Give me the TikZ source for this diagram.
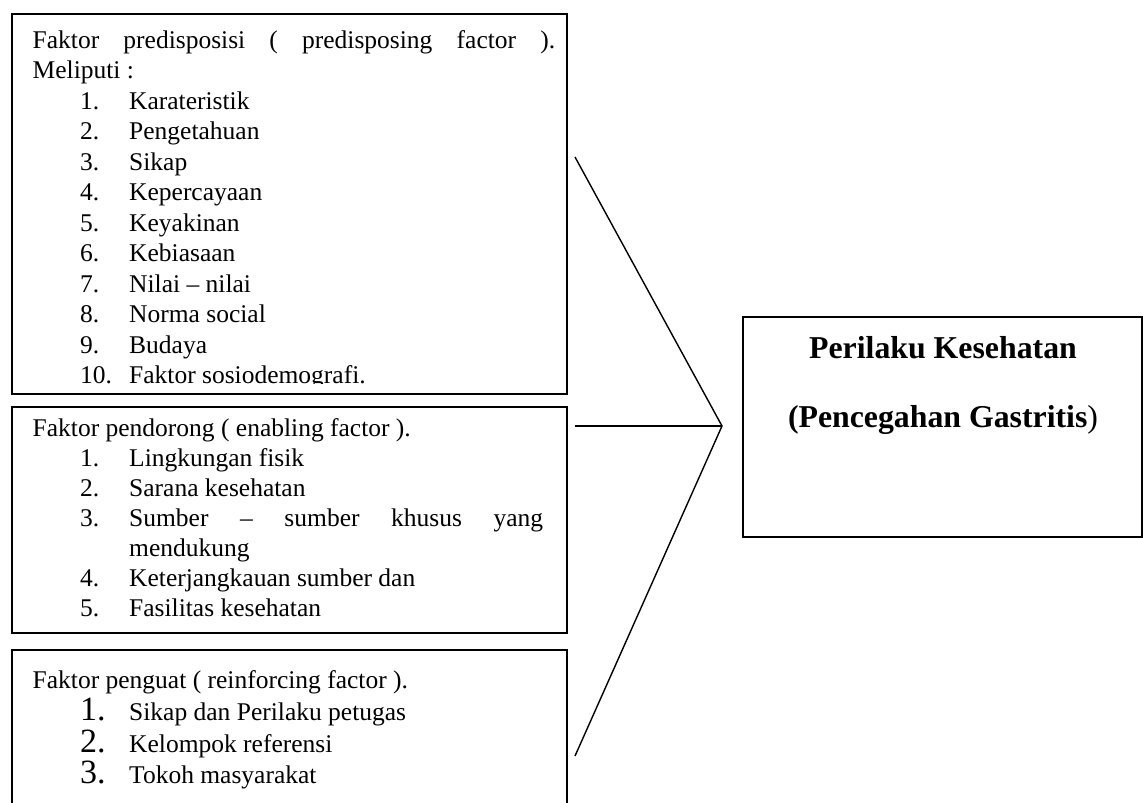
\documentclass[tikz,border=0pt]{standalone}
\usepackage{fontspec}
\setmainfont{Liberation Serif}
\usepackage{tikz}

\begin{document}
\begin{tikzpicture}[x=1pt, y=-1pt,
    kotak/.style={draw, line width=1.6pt, anchor=north west, inner sep=0pt},
    teks/.style={anchor=base west, inner sep=0pt, font=\fontsize{25.5}{30.5}\selectfont},
    nomor/.style={teks, font=\fontsize{34}{40}\selectfont},
    judul/.style={anchor=base, inner sep=0pt, font=\fontsize{31.8}{38}\selectfont\bfseries},
    garis/.style={line width=1.4pt}]
    % Batas gambar
    \clip (0,0) rectangle (1143,803);

    % Faktor predisposisi
    \node[kotak, minimum width=555pt, minimum height=380pt] (predis) at (11,13) {};
    \node[teks] (predisJudul) at (32.5,48) {\makebox[522.5pt][s]{Faktor predisposisi ( predisposing factor ).}};
    \node[teks] (predisMeliputi) at (32.5,78) {Meliputi :};
    \begin{scope}
        \clip (13,15) rectangle (564,383);
        \foreach \n/\isi in {1/Karateristik, 2/Pengetahuan, 3/Sikap, 4/Kepercayaan,
                5/Keyakinan, 6/Kebiasaan, 7/Nilai -- nilai, 8/Norma social,
                9/Budaya, 10/Faktor sosiodemografi.} {
            \node[teks] (predisNo\n) at (80,{109+30.5*(\n-1)}) {\n.};
            \node[teks] (predis\n) at (129,{109+30.5*(\n-1)}) {\isi};
        }
    \end{scope}

    % Faktor pendorong
    \node[kotak, minimum width=555pt, minimum height=226pt] (dorong) at (11,406) {};
    \node[teks] (dorongJudul) at (32.5,436) {Faktor pendorong ( enabling factor ).};
    \foreach \n/\y in {1/466, 2/496, 3/526, 4/586, 5/616} {
        \node[teks] (dorongNo\n) at (80,\y) {\n.};
    }
    \node[teks] (dorong1) at (129,466) {Lingkungan fisik};
    \node[teks] (dorong2) at (129,496) {Sarana kesehatan};
    \node[teks] (dorong3) at (129,526) {\makebox[414pt][s]{Sumber -- sumber khusus yang}};
    \node[teks] (dorong3b) at (129,556) {mendukung};
    \node[teks] (dorong4) at (129,586) {Keterjangkauan sumber dan};
    \node[teks] (dorong5) at (129,616) {Fasilitas kesehatan};

    % Faktor penguat
    \node[kotak, minimum width=555pt, minimum height=200pt] (kuat) at (11,649) {};
    \node[teks] (kuatJudul) at (32.5,688) {Faktor penguat ( reinforcing factor ).};
    \foreach \n/\isi/\y in {1/Sikap dan Perilaku petugas/720, 2/Kelompok referensi/752,
            3/Tokoh masyarakat/783} {
        \node[nomor] (kuatNo\n) at (80,\y) {\n.};
        \node[teks] (kuat\n) at (129,\y) {\isi};
    }

    % Perilaku kesehatan
    \node[kotak, minimum width=399pt, minimum height=220pt] (perilaku) at (742,316) {};
    \node[judul] (perilakuJudul) at (943,358) {Perilaku Kesehatan};
    \node[judul] (perilakuSub) at (943,427) {(Pencegahan Gastritis\textmd{)}};

    % Garis penghubung
    \coordinate (puncak) at (722,426);
    \coordinate (ujungAtas) at (575,157);
    \coordinate (ujungTengah) at (575,426);
    \coordinate (ujungBawah) at (575,756);
    \draw[garis] (ujungAtas) -- (puncak) -- (ujungBawah);
    \draw[garis] (ujungTengah) -- (puncak);
\end{tikzpicture}
\end{document}
